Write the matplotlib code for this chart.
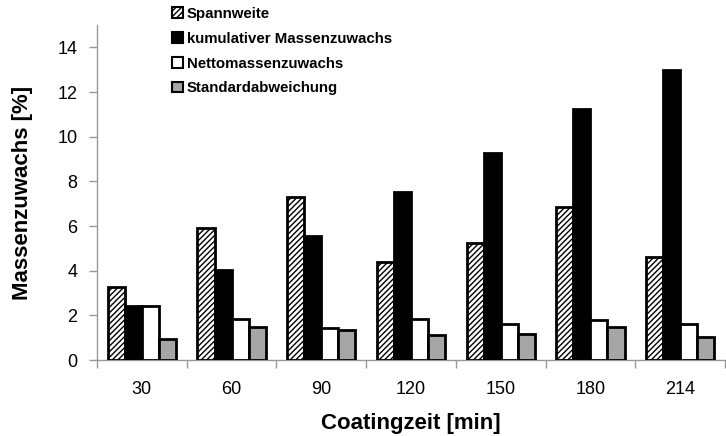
import matplotlib
matplotlib.use("Agg")
import matplotlib.pyplot as plt
import numpy as np

categories = ["30", "60", "90", "120", "150", "180", "214"]
spannweite = [3.25, 5.9, 7.3, 4.4, 5.25, 6.85, 4.6]
kumulativ = [2.4, 4.05, 5.55, 7.5, 9.25, 11.25, 13.0]
netto = [2.4, 1.85, 1.45, 1.85, 1.6, 1.8, 1.6]
std = [0.92, 1.47, 1.35, 1.12, 1.17, 1.47, 1.05]
labels = ["Spannweite", "kumulativer Massenzuwachs", "Nettomassenzuwachs", "Standardabweichung"]

plt.rcParams['font.family'] = ['Liberation Sans', 'DejaVu Sans']
plt.rcParams['hatch.linewidth'] = 1.0

fig = plt.figure(figsize=(7.26, 4.36), dpi=100)
ax = fig.add_axes([97/726, 1-360/436, 628/726, 335/436])

x = np.arange(len(categories))
w = 0.19
series = [spannweite, kumulativ, netto, std]
styles = [dict(facecolor="white", hatch="//////"),
          dict(facecolor="black"),
          dict(facecolor="white"),
          dict(facecolor="#a6a6a6")]
handles = []
for i, (vals, st) in enumerate(zip(series, styles)):
    b = ax.bar(x + (i - 1.5) * w, vals, width=w, edgecolor="black", linewidth=2.0,
               label=labels[i], zorder=3, **st)
    handles.append(b)

ax.set_xlim(-0.5, 6.5)
ax.set_ylim(0, 15)
ax.set_yticks(np.arange(0, 15, 2))
ax.set_xticks(x)
ax.set_xticklabels(categories)
ax.set_xticks(np.arange(-0.5, 6.6, 1), minor=True)
ax.tick_params(axis="x", which="major", length=0, pad=15, labelsize=13)
ax.tick_params(axis="x", which="minor", length=6, color="#999999", width=1)
ax.tick_params(axis="y", length=6, color="#999999", width=1, labelsize=13, pad=8)
for s in ["top", "right"]:
    ax.spines[s].set_visible(False)
for s in ["left", "bottom"]:
    ax.spines[s].set_color("#999999")
    ax.spines[s].set_linewidth(1)

ax.set_ylabel("Massenzuwachs [%]", fontsize=16, fontweight="bold")
ax.yaxis.set_label_coords(-64/628, 0.5)
ax.set_xlabel("Coatingzeit [min]", fontsize=16, fontweight="bold")
ax.xaxis.set_label_coords(0.5, -53/335)

leg = fig.legend(handles=handles, labels=labels, loc="upper left",
                 bbox_to_anchor=(169/726, 1 - 4/436), frameon=False,
                 prop=dict(weight="bold", size=10.8), handlelength=0.7,
                 handleheight=0.7, handletextpad=0.3, labelspacing=0.72,
                 borderaxespad=0, borderpad=0.2)
for p in leg.get_patches():
    p.set_linewidth(1.5)

fig.savefig("out.png", dpi=100)
